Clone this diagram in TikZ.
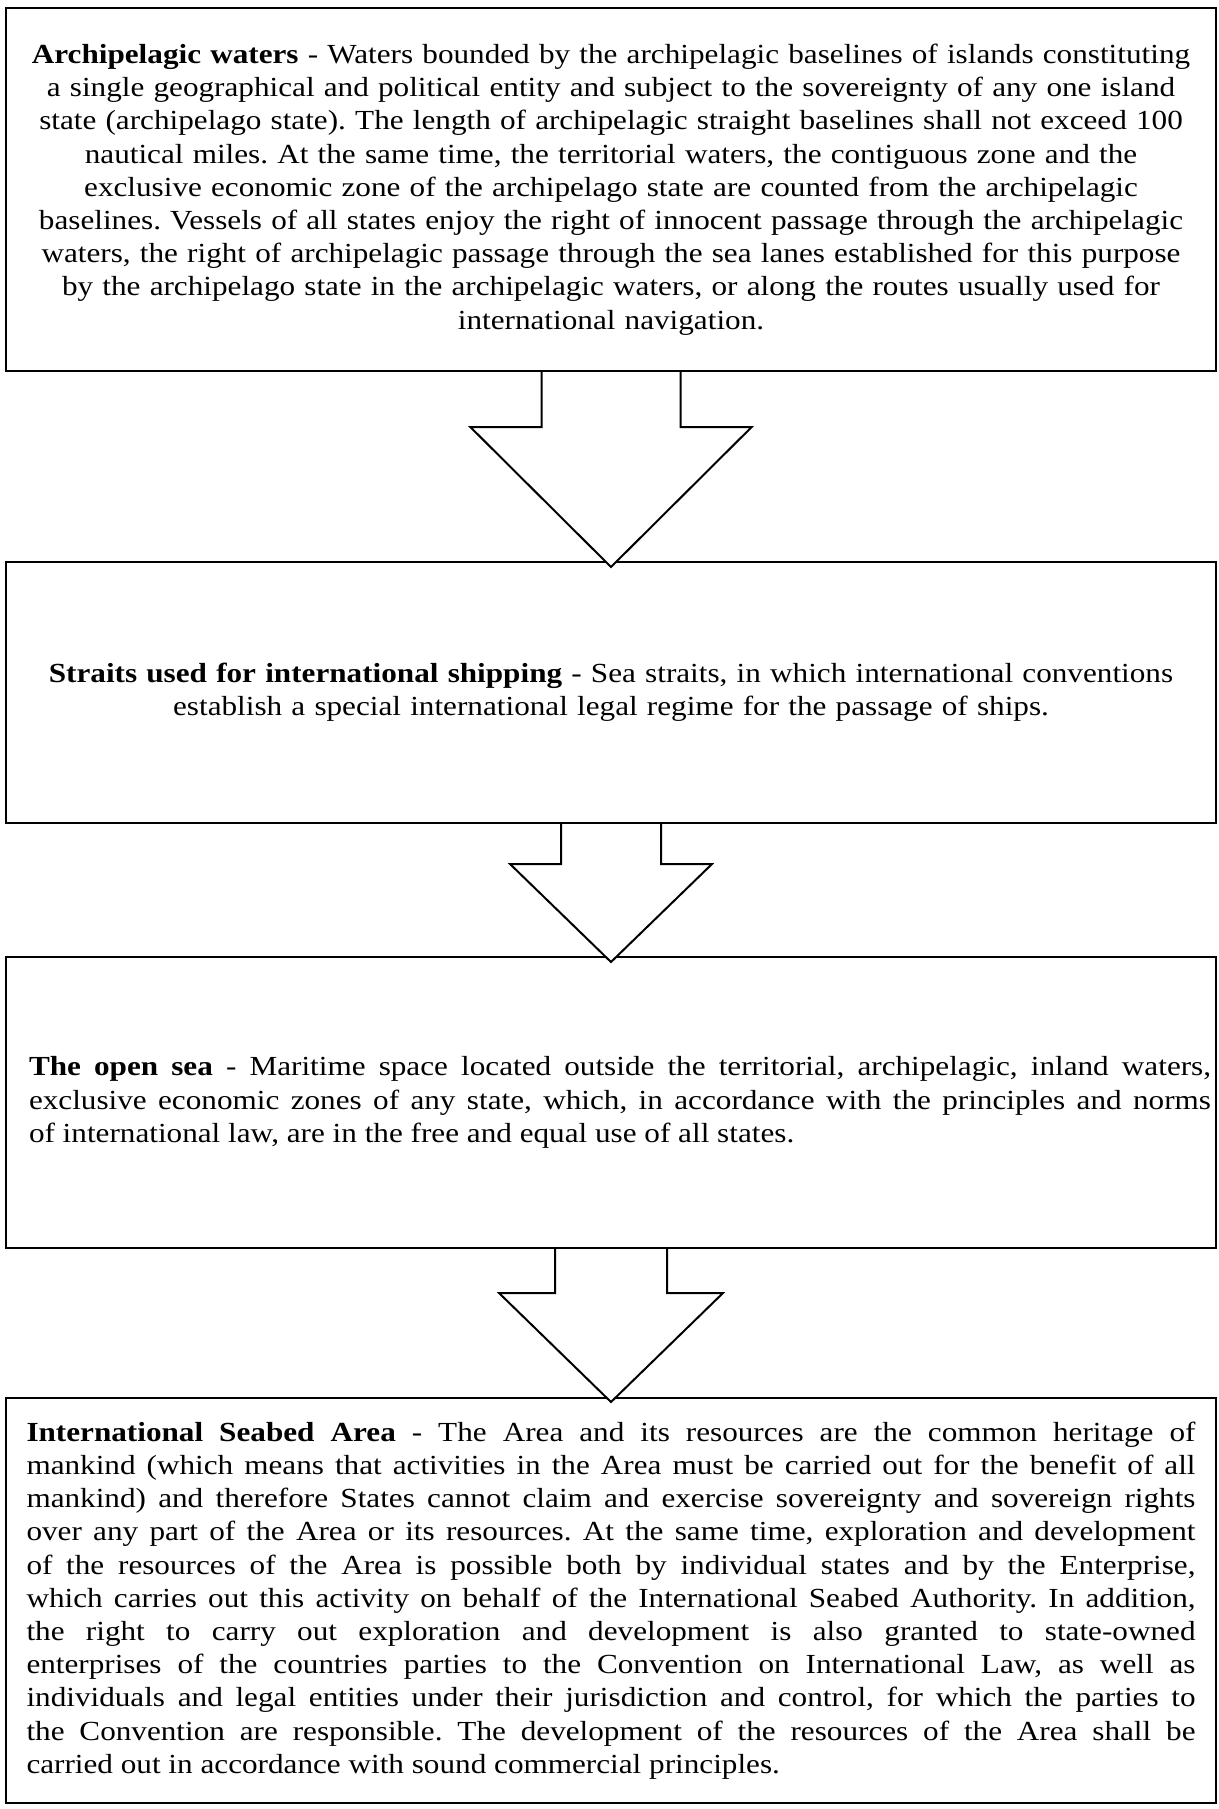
\documentclass[tikz,border=0pt]{standalone}
\usepackage{fontspec}
\setmainfont{Liberation Serif}[FakeStretch=1.13]
\usetikzlibrary{calc}
\tikzset{
  box/.style={draw, line width=1pt, rectangle, inner sep=0pt, minimum width=605pt, font=\fontsize{13.8}{16.6}\selectfont},
  barrow/.style={draw, fill=white, line width=1pt, line join=miter}
}
\frenchspacing
\begin{document}
\begin{tikzpicture}[x=0.5pt, y=-0.5pt]
\useasboundingbox (0,0) rectangle (1219,1809);
\node[box, line width=1.2pt, minimum height=181.5pt, text width=595pt, align=center] (b1) at (611,189.5) {\frenchspacing\textbf{Archipelagic waters} - Waters bounded by the archipelagic baselines of islands constituting\\
a single geographical and political entity and subject to the sovereignty of any one island\\
state (archipelago state). The length of archipelagic straight baselines shall not exceed 100\\
nautical miles. At the same time, the territorial waters, the contiguous zone and the\\
exclusive economic zone of the archipelago state are counted from the archipelagic\\
baselines. Vessels of all states enjoy the right of innocent passage through the archipelagic\\
waters, the right of archipelagic passage through the sea lanes established for this purpose\\
by the archipelago state in the archipelagic waters, or along the routes usually used for\\
international navigation.};
\node[box, minimum height=130.5pt, text width=595pt, align=center] (b2) at (611,692.5) {\frenchspacing\textbf{Straits used for international shipping} - Sea straits, in which international conventions\\
establish a special international legal regime for the passage of ships.};
\node[box, minimum height=145.5pt] (b3) at (611,1102.5) {\hspace*{9pt}\parbox{591pt}{\frenchspacing\tolerance=10000\hbadness=10000\textbf{The open sea} - Maritime space located outside the territorial, archipelagic, inland waters,\linebreak
exclusive economic zones of any state, which, in accordance with the principles and norms\linebreak
of international law, are in the free and equal use of all states.}};
\node[box, minimum height=202.5pt, text width=584.5pt, align=justify] (b4) at (611,1600.5) {\frenchspacing\tolerance=10000\hbadness=10000\textbf{International Seabed Area} - The Area and its resources are the common heritage of\linebreak
mankind (which means that activities in the Area must be carried out for the benefit of all\linebreak
mankind) and therefore States cannot claim and exercise sovereignty and sovereign rights\linebreak
over any part of the Area or its resources. At the same time, exploration and development\linebreak
of the resources of the Area is possible both by individual states and by the Enterprise,\linebreak
which carries out this activity on behalf of the International Seabed Authority. In addition,\linebreak
the right to carry out exploration and development is also granted to state-owned\linebreak
enterprises of the countries parties to the Convention on International Law, as well as\linebreak
individuals and legal entities under their jurisdiction and control, for which the parties to\linebreak
the Convention are responsible. The development of the resources of the Area shall be\linebreak
carried out in accordance with sound commercial principles.};
% block arrows
\draw[barrow] ($(b1.south)+(-69.5,0)$) -- ($(b1.south)+(-69.5,55)$) -- ($(b1.south)+(-140.5,55)$) -- ($(b2.north)+(0,6)$) -- ($(b1.south)+(140.5,55)$) -- ($(b1.south)+(69.5,55)$) -- ($(b1.south)+(69.5,0)$);
\draw[barrow] ($(b2.south)+(-50,0)$) -- ($(b2.south)+(-50,40)$) -- ($(b2.south)+(-101,40)$) -- ($(b3.north)+(0,6)$) -- ($(b2.south)+(101,40)$) -- ($(b2.south)+(50,40)$) -- ($(b2.south)+(50,0)$);
\draw[barrow] ($(b3.south)+(-56,0)$) -- ($(b3.south)+(-56,44)$) -- ($(b3.south)+(-112,44)$) -- ($(b4.north)+(0,5)$) -- ($(b3.south)+(112,44)$) -- ($(b3.south)+(56,44)$) -- ($(b3.south)+(56,0)$);
\end{tikzpicture}
\end{document}
